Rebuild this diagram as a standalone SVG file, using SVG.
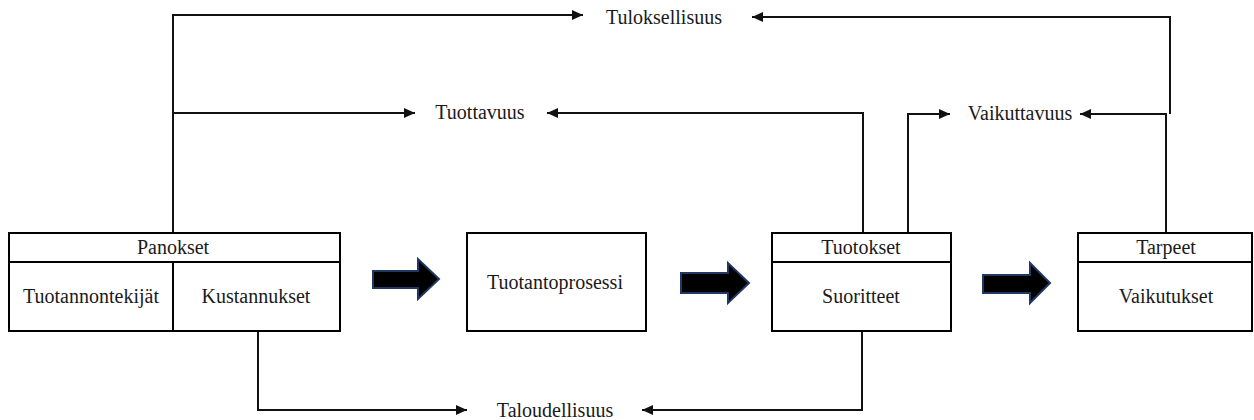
<svg xmlns="http://www.w3.org/2000/svg" width="1254" height="420" viewBox="0 0 1254 420">
<style>
  .box { fill: #ffffff; stroke: #000000; stroke-width: 2; }
  .div { stroke: #000000; stroke-width: 2; fill: none; }
  .t { font-family: "Liberation Serif", "Times New Roman", serif; font-size: 20px; fill: #1a1a1a; text-anchor: middle; }
  .conn { fill: none; stroke: #111111; stroke-width: 2; }
  .big { fill: #000000; stroke: #1F3864; stroke-width: 2; stroke-linejoin: miter; }
</style>
<defs>
  <marker id="ah" markerUnits="userSpaceOnUse" markerWidth="12" markerHeight="10" refX="11" refY="5" orient="auto">
    <path d="M0,0 L11,5 L0,10 Z" fill="#111111"/>
  </marker>
</defs>
<rect width="1254" height="420" fill="#ffffff"/>

<g id="connectors">
  <path class="conn" d="M173,233 V15 H583" marker-end="url(#ah)"/>
  <path class="conn" d="M173,113 H415" marker-end="url(#ah)"/>
  <path class="conn" d="M1170,114 V17 H752" marker-end="url(#ah)"/>
  <path class="conn" d="M1166,233 V114 H1080" marker-end="url(#ah)"/>
  <path class="conn" d="M863,233 V113 H547" marker-end="url(#ah)"/>
  <path class="conn" d="M908,233 V114 H950" marker-end="url(#ah)"/>
  <path class="conn" d="M258,331 V410 H467" marker-end="url(#ah)"/>
  <path class="conn" d="M862,331 V410 H642" marker-end="url(#ah)"/>
</g>

<g id="flow-arrows">
  <path class="big" d="M373,271 H418 V259 L439,279 L418,299 V288 H373 Z"/>
  <path class="big" d="M681,273 H728 V263 L749,283 L728,303 V293 H681 Z"/>
  <path class="big" d="M983,275 H1030 V263 L1050,283 L1030,303 V293 H983 Z"/>
</g>

<g id="panokset">
  <rect class="box" x="9" y="233" width="331" height="98"/>
  <line class="div" x1="9" y1="262" x2="340" y2="262"/>
  <line class="div" x1="173" y1="262" x2="173" y2="331"/>
  <text class="t" x="173" y="254">Panokset</text>
  <text class="t" x="91" y="303">Tuotannontekijät</text>
  <text class="t" x="256" y="303">Kustannukset</text>
</g>

<g id="tuotantoprosessi">
  <rect class="box" x="467" y="233" width="179" height="98"/>
  <text class="t" x="555" y="289">Tuotantoprosessi</text>
</g>

<g id="tuotokset">
  <rect class="box" x="772" y="233" width="179" height="98"/>
  <line class="div" x1="772" y1="262" x2="951" y2="262"/>
  <text class="t" x="861" y="254">Tuotokset</text>
  <text class="t" x="861" y="303">Suoritteet</text>
</g>

<g id="tarpeet">
  <rect class="box" x="1078" y="233" width="174" height="98"/>
  <line class="div" x1="1078" y1="262" x2="1252" y2="262"/>
  <text class="t" x="1166" y="254">Tarpeet</text>
  <text class="t" x="1166" y="303">Vaikutukset</text>
</g>

<g id="tuloksellisuus">
  <text class="t" x="664" y="24">Tuloksellisuus</text>
</g>
<g id="tuottavuus">
  <text class="t" x="480" y="119">Tuottavuus</text>
</g>
<g id="vaikuttavuus">
  <text class="t" x="1020" y="120">Vaikuttavuus</text>
</g>
<g id="taloudellisuus">
  <text class="t" x="555" y="417">Taloudellisuus</text>
</g>
</svg>
